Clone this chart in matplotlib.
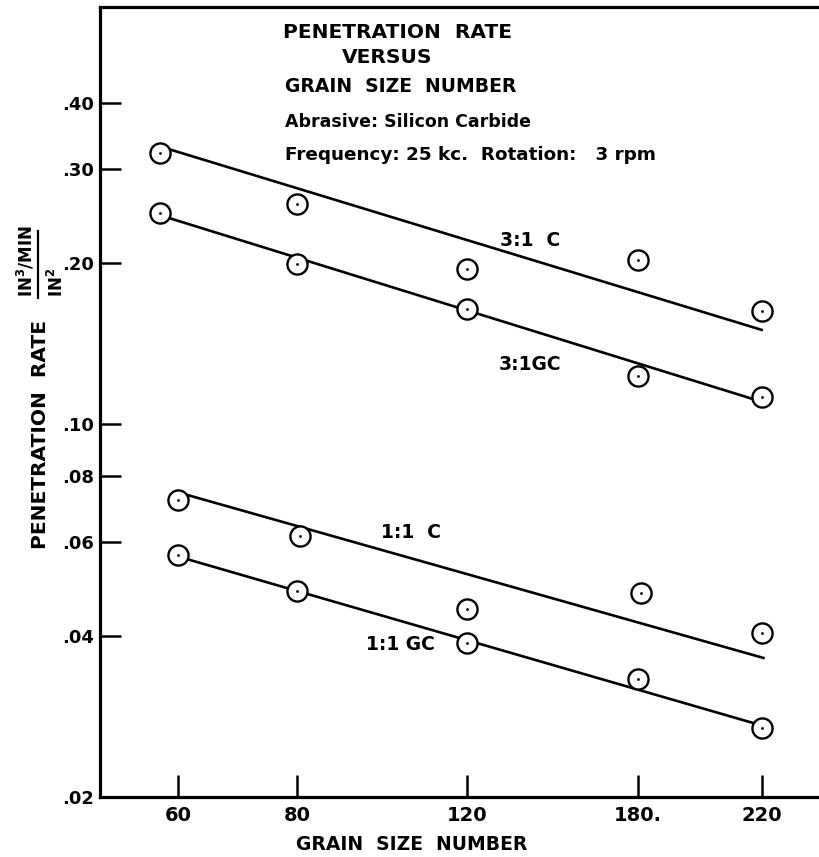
import matplotlib
matplotlib.use("Agg")
import matplotlib.pyplot as plt
from matplotlib.lines import Line2D
from matplotlib.ticker import NullLocator
import numpy as np

plt.rcParams['font.family'] = ['DejaVu Sans']
plt.rcParams['font.weight'] = 'bold'
plt.rcParams['mathtext.fontset'] = 'dejavusans'
plt.rcParams['mathtext.default'] = 'bf'

# data (penetration rate, in^3/min per in^2)
grain_ticks = [60, 80, 120, 180, 220]
grain_labels = ['60', '80', '120', '180.', '220']
rate_ticks = [0.02, 0.04, 0.06, 0.08, 0.10, 0.20, 0.30, 0.40]
rate_labels = ['.02', '.04', '.06', '.08', '.10', '.20', '.30', '.40']

x_31c = [57, 80, 120, 180, 220]
y_31c = [0.322, 0.258, 0.195, 0.203, 0.163]
x_31gc = [57, 80, 120, 180, 220]
y_31gc = [0.248, 0.199, 0.164, 0.123, 0.1125]
x_11c = [60, 80.7, 120, 181, 220]
y_11c = [0.0720, 0.0615, 0.0449, 0.0482, 0.0405]
x_11gc = [60, 80, 120, 180, 220]
y_11gc = [0.0568, 0.0485, 0.0388, 0.0332, 0.0269]

# fitted lines (end points)
fit_31c_x, fit_31c_y = [57, 220], [0.331, 0.150]
fit_31gc_x, fit_31gc_y = [57, 220], [0.246, 0.110]
fit_11c_x, fit_11c_y = [60, 220.6], [0.0744, 0.0364]
fit_11gc_x, fit_11gc_y = [60, 220], [0.0564, 0.0272]

# uneven grain-size axis of the original sheet
knot_grain = np.array([0, 60, 80, 120, 180, 220, 400], dtype=float)
knot_pos = np.array([-179, 178, 297, 467, 638, 762, 1320], dtype=float)


def fwd(x):
    return np.interp(x, knot_grain, knot_pos)


def inv(p):
    return np.interp(p, knot_pos, knot_grain)


W, H = 819, 857
fig = plt.figure(figsize=(W / 100, H / 100), dpi=100)
ax = fig.add_axes([100 / W, 1 - 796.7 / H, 718 / W, (796.7 - 7.5) / H])

ax.set_xscale('function', functions=(fwd, inv))
ax.set_yscale('log')
ax.set_xlim(46.9, 238.2)
ax.set_ylim(0.02, 0.603)

line_kw = dict(color='black', lw=1.9, zorder=2)
mk_kw = dict(ls='none', marker='o', ms=14.5, mfc='white', mec='black', mew=1.7, zorder=3)
dot_kw = dict(ls='none', marker='.', ms=2, color='black', zorder=4)

for fx, fy in [(fit_31c_x, fit_31c_y), (fit_31gc_x, fit_31gc_y),
               (fit_11c_x, fit_11c_y), (fit_11gc_x, fit_11gc_y)]:
    ax.plot(fx, fy, **line_kw)

for px, py in [(x_31c, y_31c), (x_31gc, y_31gc), (x_11c, y_11c), (x_11gc, y_11gc)]:
    ax.plot(px, py, **mk_kw)
    ax.plot(px, py, **dot_kw)

ax.set_xticks(grain_ticks)
ax.set_xticklabels(grain_labels)
ax.set_yticks(rate_ticks)
ax.set_yticklabels(rate_labels)
ax.xaxis.set_minor_locator(NullLocator())
ax.yaxis.set_minor_locator(NullLocator())
ax.tick_params(axis='both', direction='in', length=15, width=1.8)
ax.tick_params(axis='x', labelsize=14, pad=7, length=16)
ax.tick_params(axis='y', labelsize=13, pad=4)

for s in ['left', 'top', 'bottom']:
    ax.spines[s].set_linewidth(2.3)
ax.spines['right'].set_visible(False)

ax.set_xlabel('GRAIN  SIZE  NUMBER', fontsize=13.5, fontweight='bold')
ax.xaxis.set_label_coords(0.4345, -0.048)
ax.set_ylabel('PENETRATION  RATE', fontsize=14.5, fontweight='bold')
ax.yaxis.set_label_coords(-0.07, 0.459)


def ftext(x, y, s, **kw):
    fig.text(x / W, 1 - y / H, s, **kw)


# unit fraction next to the y label
ftext(26, 297, 'IN$^3$/MIN', rotation=90, ha='center', va='bottom', fontsize=12)
ftext(57, 297, 'IN$^2$', rotation=90, ha='center', va='bottom', fontsize=12)
fig.add_artist(Line2D([37.5 / W, 37.5 / W], [1 - 231 / H, 1 - 298 / H],
                      color='black', lw=1.6))

# title block
ftext(283, 32.5, 'PENETRATION  RATE', ha='left', va='center', fontsize=14.5)
ftext(342, 57.5, 'VERSUS', ha='left', va='center', fontsize=14.5)
ftext(285, 86, 'GRAIN  SIZE  NUMBER', ha='left', va='center', fontsize=13.5)
ftext(285, 122, 'Abrasive: Silicon Carbide', ha='left', va='center', fontsize=12.5)
ftext(285, 155, 'Frequency: 25 kc.  Rotation:   3 rpm', ha='left', va='center', fontsize=13.2)

# series labels
ftext(530, 241, '3:1  C', ha='center', va='center', fontsize=13.5)
ftext(530, 365, '3:1GC', ha='center', va='center', fontsize=13.5)
ftext(411, 532, '1:1  C', ha='center', va='center', fontsize=13.5)
ftext(400, 644, '1:1 GC', ha='center', va='center', fontsize=13.5)

fig.savefig('out.png', dpi=100)
